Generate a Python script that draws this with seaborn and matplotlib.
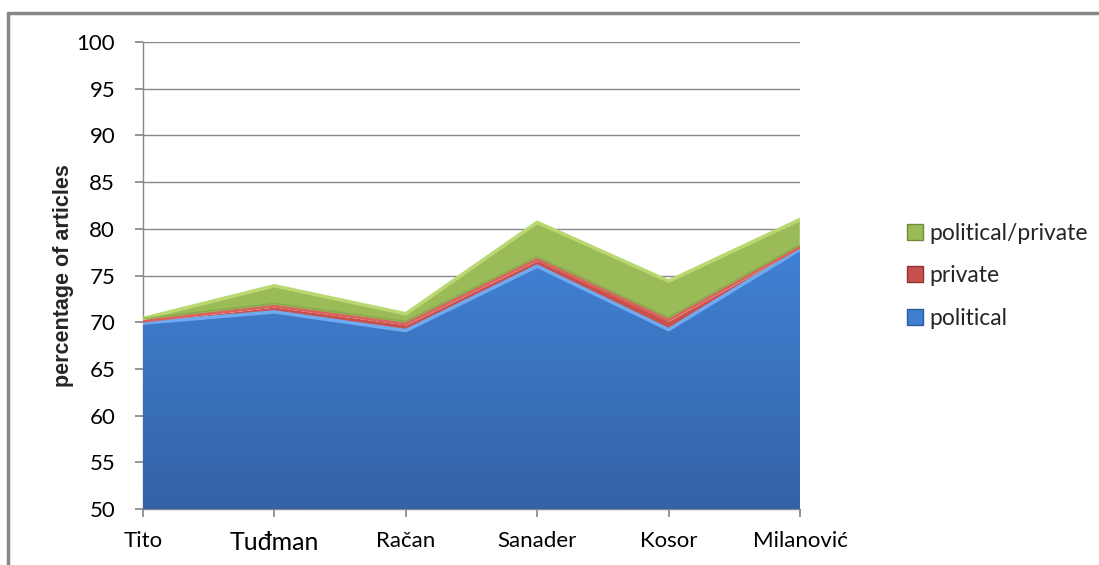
import matplotlib
matplotlib.use("Agg")
import matplotlib.pyplot as plt
import seaborn as sns
import numpy as np
import pandas as pd
from matplotlib.lines import Line2D
from matplotlib.patches import Patch

leaders = ["Tito", "Tuđman", "Račan", "Sanader", "Kosor", "Milanović"]
political = [69.9, 71.1, 69.1, 76.0, 69.2, 77.8]
private = [0.2, 0.6, 0.7, 0.7, 1.0, 0.2]
political_private = [0.3, 2.2, 1.1, 4.0, 4.2, 3.0]
yticks = [50, 55, 60, 65, 70, 75, 80, 85, 90, 95, 100]

sns.set_theme(style="white")
plt.rcParams['font.family'] = ['Lato', 'DejaVu Sans']

df = pd.DataFrame({"leader": leaders, "political": political,
                   "private": private, "political/private": political_private})

fig = plt.figure(figsize=(10.99, 5.65), dpi=100)
ax = fig.add_axes([143/1099, 1-509/565, (800-143)/1099, (509-42)/565])

x = np.arange(len(leaders))
c_blue, c_red, c_green = "#3F7ED0", "#C8504D", "#9BBB59"
polys = ax.stackplot(x, df["political"], df["private"], df["political/private"],
                     colors=[c_blue, c_red, c_green], zorder=3, baseline="zero")
# vertical gradient on blue area
grad = np.linspace(0, 1, 256).reshape(-1, 1)
cmap = matplotlib.colors.LinearSegmentedColormap.from_list("b", ["#3462A6", "#4284D8"])
im = ax.imshow(grad, extent=[0, len(leaders) - 1, 50, 80], origin="lower",
               cmap=cmap, aspect="auto", zorder=3.5)
im.set_clip_path(polys[0].get_paths()[0], ax.transData)

cum1 = np.array(political)
cum2 = cum1 + np.array(private)
cum3 = cum2 + np.array(political_private)
ax.plot(x, cum1, color="#6FAAF0", lw=2.5, zorder=4)
ax.plot(x, cum2, color="#DA625E", lw=2, zorder=4)
ax.plot(x, cum3, color="#B9D870", lw=2.5, zorder=4)
ax.plot(x, cum2 + 0.3, color="#7F9A43", lw=1, zorder=4, alpha=0.6)

ax.set_xlim(0, len(leaders) - 1)
ax.set_ylim(50, 100)
ax.set_yticks(yticks)
ax.set_yticklabels([str(v) for v in yticks], fontsize=16)
ax.set_xticks(x)
ax.set_xticklabels(leaders, fontsize=16)
for lbl in ax.get_xticklabels():
    if lbl.get_text() == "Tuđman":
        lbl.set_fontsize(18)
ax.grid(axis="y", color="#888888", lw=1, zorder=0)
ax.set_axisbelow(True)
for s in ["top", "right"]:
    ax.spines[s].set_visible(False)
for s in ["left", "bottom"]:
    ax.spines[s].set_color("#888888")
    ax.spines[s].set_linewidth(1)
ax.tick_params(axis="y", left=True, length=6, color="#888888", pad=14, labelcolor="black")
ax.tick_params(axis="x", bottom=True, length=6, color="#888888", pad=10, labelcolor="black")
ax.set_ylabel("percentage of articles", fontsize=15.5, fontweight="bold",
              family=["Liberation Sans", "DejaVu Sans"], labelpad=2)

handles = [Patch(facecolor=c_green, edgecolor="#6E8A3A"),
           Patch(facecolor=c_red, edgecolor="#8E3532"),
           Patch(facecolor=c_blue, edgecolor="#2D5C9A")]
fig.legend(handles, ["political/private", "private", "political"],
           loc="center left", bbox_to_anchor=(886/1099, 1-276/565),
           frameon=False, fontsize=16.5, handlelength=0.7, handleheight=0.7,
           handletextpad=0.3, labelspacing=0.95)

fig.add_artist(Line2D([8/1099, 8/1099], [0, 1-13/565], color="#888888", lw=2.5,
                      transform=fig.transFigure))
fig.add_artist(Line2D([8/1099, 1098/1099], [1-13/565, 1-13/565], color="#888888", lw=2.5,
                      transform=fig.transFigure))

fig.savefig("out.png", dpi=100)
